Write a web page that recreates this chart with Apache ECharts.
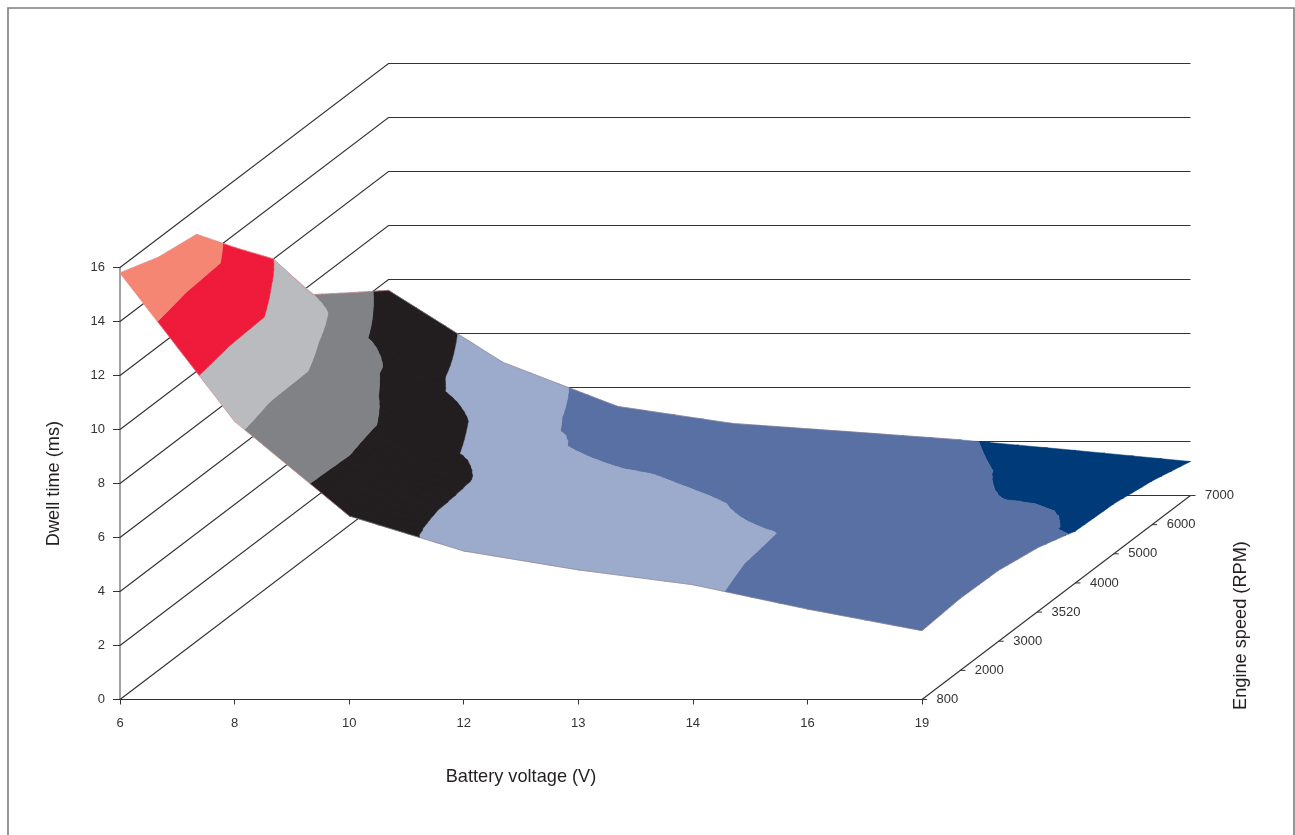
<!DOCTYPE html>
<html><head><meta charset="utf-8">
<style>html,body{margin:0;padding:0;background:#fff}#c{width:1295px;height:835px}</style>
<script src="https://cdn.jsdelivr.net/npm/echarts@6/dist/echarts.min.js"></script>
</head><body><div id="c"></div>
<script>
const voltages = ['6','8','10','12','13','14','16','19'];
const rpms = ['800','2000','3000','3520','4000','5000','6000','7000'];
const dwellTicks = [0,2,4,6,8,10,12,14,16];
// dwell time (ms): one row per engine speed, one column per battery voltage
const dwell800  = [15.8,10.3,6.8,5.5,4.8,4.25,3.35,2.55];
const dwell2000 = [15.3,9.94,7.08,4.73,4.4,4.12,3.15,2.67];
const dwell3000 = [15.07,9.85,6.6,5.1,4.6,4.05,3.2,2.63];
const dwell3520 = [13.5,8.7,5.92,5.0,4.25,3.4,2.9,2.37];
const dwell4000 = [12,7.8,5.23,4.25,3.5,2.85,2.45,1.92];
const dwell5000 = [9.6,6.34,4.3,3.0,2.6,2.25,2.01,1.85];
const dwell6000 = [8.59,5.65,3.71,3.2,2.7,2.22,1.86,1.62];
const dwell7000 = [7.6,4.93,3.3,2.67,2.37,2.06,1.67,1.26];
const surface = [dwell800,dwell2000,dwell3000,dwell3520,dwell4000,dwell5000,dwell6000,dwell7000];
const bandColors = ['#003A78','#5870A3','#9CAACB','#231F20','#808285','#B9BBBE','#EF1B3A','#F58673'];

// oblique projection: one RPM step moves this far along the voltage and dwell scales
const depthX = 268.5/7/114.57, depthY = 29.14/27;
const nx = voltages.length-1, nd = rpms.length-1;
const tickColor='#333', lineColor='#333', nameFont='18.2px "Liberation Sans"';

function proj(api,x,d,v){ return api.coord([x+d*depthX, v+d*depthY]); }
function clip(poly,level,keepAbove){
  const out=[];
  for(let i=0;i<poly.length;i++){
    const a=poly[i], b=poly[(i+1)%poly.length];
    const ia=keepAbove?a[2]>=level:a[2]<=level, ib=keepAbove?b[2]>=level:b[2]<=level;
    if(ia) out.push(a);
    if(ia!==ib){ const t=(level-a[2])/(b[2]-a[2]); out.push([a[0]+(b[0]-a[0])*t,a[1]+(b[1]-a[1])*t,level]); }
  }
  return out;
}
function bilinear(xi,di,u,w){
  const s=surface;
  return s[di][xi]*(1-u)*(1-w)+s[di][xi+1]*u*(1-w)+s[di+1][xi]*(1-u)*w+s[di+1][xi+1]*u*w;
}
function renderSurface(params,api){
  const n=4; const paths=bandColors.map(()=>[]);
  for(let di=nd-1;di>=0;di--) for(let xi=0;xi<nx;xi++){
    for(let j=0;j<n;j++) for(let i=0;i<n;i++){
      const P=(a,b)=>[xi+a/n,di+b/n,bilinear(xi,di,a/n,b/n)];
      const A=P(i,j),B=P(i+1,j),C=P(i+1,j+1),D=P(i,j+1);
      [[A,B,C],[A,C,D]].forEach(tri=>{
        for(let b=0;b<bandColors.length;b++){
          let p=clip(tri,dwellTicks[b],true); if(p.length<3)continue;
          p=clip(p,dwellTicks[b+1],false); if(p.length<3)continue;
          paths[b].push('M'+p.map(q=>{const c=proj(api,q[0],q[1],q[2]);return c[0].toFixed(2)+' '+c[1].toFixed(2);}).join('L')+'Z');
        }
      });
    }
  }
  const children=[];
  paths.forEach((d,b)=>{ if(d.length) children.push({type:'path',shape:{pathData:d.join('')},
    style:{fill:bandColors[b],stroke:bandColors[b],lineWidth:0.5}}); });
  // fine outline along the rim of the surface
  const rim=[];
  for(let i=0;i<nx;i++){rim.push([i,0,surface[0][i],i+1,0,surface[0][i+1]]);rim.push([i,nd,surface[nd][i],i+1,nd,surface[nd][i+1]]);}
  for(let k=0;k<nd;k++){rim.push([0,k,surface[k][0],0,k+1,surface[k+1][0]]);rim.push([nx,k,surface[k][nx],nx,k+1,surface[k+1][nx]]);}
  rim.forEach(r=>{
    if(Math.min(r[2],r[5])<2.05) return;
    const a=proj(api,r[0],r[1],r[2]),b=proj(api,r[3],r[4],r[5]);
    const red=Math.min(r[2],r[5])>=6;
    children.push({type:'line',shape:{x1:a[0],y1:a[1],x2:b[0],y2:b[1]},
      style:{stroke:red?'#e08a90':'#8a7f95',lineWidth:0.6}});
  });
  return {type:'group',children};
}
function renderWalls(params,api){
  const children=[];
  dwellTicks.forEach(v=>{
    const a=proj(api,0,0,v),b=proj(api,0,nd,v),c=proj(api,nx,nd,v);
    children.push({type:'polyline',shape:{points:[a,b,c]},style:{fill:null,stroke:lineColor,lineWidth:1.15}});
  });
  return {type:'group',children};
}
function renderDepth(params,api){
  const children=[];
  const a=proj(api,nx,0,0),b=proj(api,nx,nd,0);
  children.push({type:'line',shape:{x1:a[0],y1:a[1],x2:b[0],y2:b[1]},style:{stroke:lineColor,lineWidth:1.15}});
  rpms.forEach((r,k)=>{
    const p=proj(api,nx,k,0);
    children.push({type:'line',shape:{x1:p[0],y1:p[1],x2:p[0]+5,y2:p[1]},style:{stroke:lineColor,lineWidth:1}});
    children.push({type:'text',x:p[0]+14.5,y:p[1],style:{text:r,fill:tickColor,font:'13px "Liberation Sans"',textAlign:'left',textVerticalAlign:'middle'}});
  });
  const m=proj(api,nx,nd/2,0);
  children.push({type:'text',x:m[0]+185,y:m[1]+28,rotation:Math.PI/2,
    style:{text:'Engine speed (RPM)',fill:'#231F20',font:nameFont,textAlign:'center',textVerticalAlign:'middle'}});
  return {type:'group',children};
}
const chart=echarts.init(document.getElementById('c'),null,{renderer:'canvas'});
chart.setOption({
  animation:false,
  backgroundColor:'#fff',
  grid:{left:120,top:267.5,width:802,height:432,containLabel:false},
  graphic:[{type:'rect',shape:{x:8,y:8,width:1286,height:900},style:{fill:null,stroke:'#7d7d7d',lineWidth:1.6},silent:true}],
  xAxis:{type:'value',min:0,max:nx,interval:1,
    name:'Battery voltage (V)',nameLocation:'middle',nameGap:68,
    nameTextStyle:{color:'#231F20',fontSize:18.2,fontFamily:'Liberation Sans'},
    axisLine:{show:true,lineStyle:{color:lineColor,width:1.15}},
    axisTick:{show:true,length:5,lineStyle:{color:lineColor}},
    axisLabel:{color:tickColor,fontSize:13,fontFamily:'Liberation Sans',margin:17,showMinLabel:true,showMaxLabel:true,formatter:v=>voltages[v]},
    splitLine:{show:false}},
  yAxis:{type:'value',min:0,max:16,interval:2,
    name:'Dwell time (ms)',nameLocation:'middle',nameGap:57,
    nameTextStyle:{color:'#231F20',fontSize:18.2,fontFamily:'Liberation Sans'},
    axisLine:{show:true,lineStyle:{color:'#8a8a8a',width:1.6}},
    axisTick:{show:true,length:7,lineStyle:{color:lineColor}},
    axisLabel:{color:tickColor,fontSize:13,fontFamily:'Liberation Sans',margin:15},
    splitLine:{show:false}},
  series:[
    {type:'custom',coordinateSystem:'cartesian2d',data:[[0,0]],renderItem:renderWalls,silent:true,z:1,clip:false},
    {type:'custom',coordinateSystem:'cartesian2d',data:[[0,0]],renderItem:renderDepth,silent:true,z:2,clip:false},
    {type:'custom',coordinateSystem:'cartesian2d',data:[[0,0]],renderItem:renderSurface,silent:true,z:3,clip:false}
  ]
});
</script></body></html>
